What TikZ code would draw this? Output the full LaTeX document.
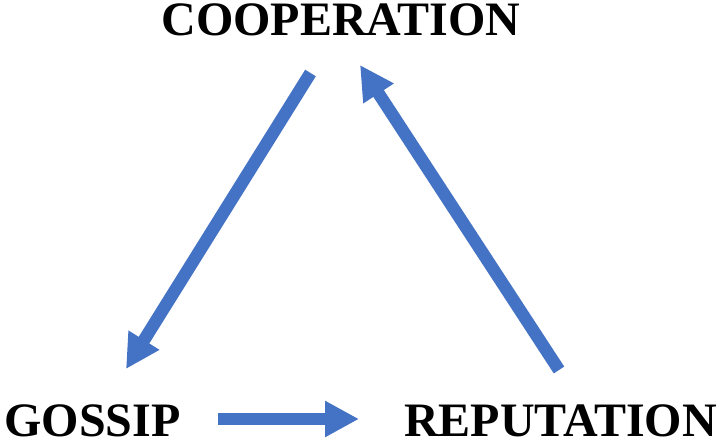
\documentclass[tikz,border=0pt]{standalone}
\usepackage{fontspec}
\setmainfont{Liberation Serif}
\usetikzlibrary{arrows.meta}
\definecolor{arrowblue}{HTML}{4472C4}
\tikzset{
  label/.style={font=\fontsize{48}{52}\selectfont\bfseries, inner sep=0pt, text=black},
  bigarrow/.style={draw=arrowblue, line width=12.5pt, -{Triangle[length=34pt,width=34pt]}}
}
\begin{document}
\begin{tikzpicture}[x=1pt,y=-1pt]
\useasboundingbox (0,0) rectangle (720,443);
\node[label] (coop) at (341,20) {COOPERATION};
\node[label] (gossip) at (92.5,421) {GOSSIP};
\node[label] (rep) at (560.5,421) {REPUTATION};
\coordinate (a1s) at (310.5,73);
\coordinate (a1e) at (126,369);
\coordinate (a2s) at (218,419);
\coordinate (a2e) at (359,419);
\coordinate (a3s) at (559,370);
\coordinate (a3e) at (360,65);
\draw[bigarrow] (a1s) -- (a1e);
\draw[bigarrow] (a2s) -- (a2e);
\draw[bigarrow] (a3s) -- (a3e);
\end{tikzpicture}
\end{document}
